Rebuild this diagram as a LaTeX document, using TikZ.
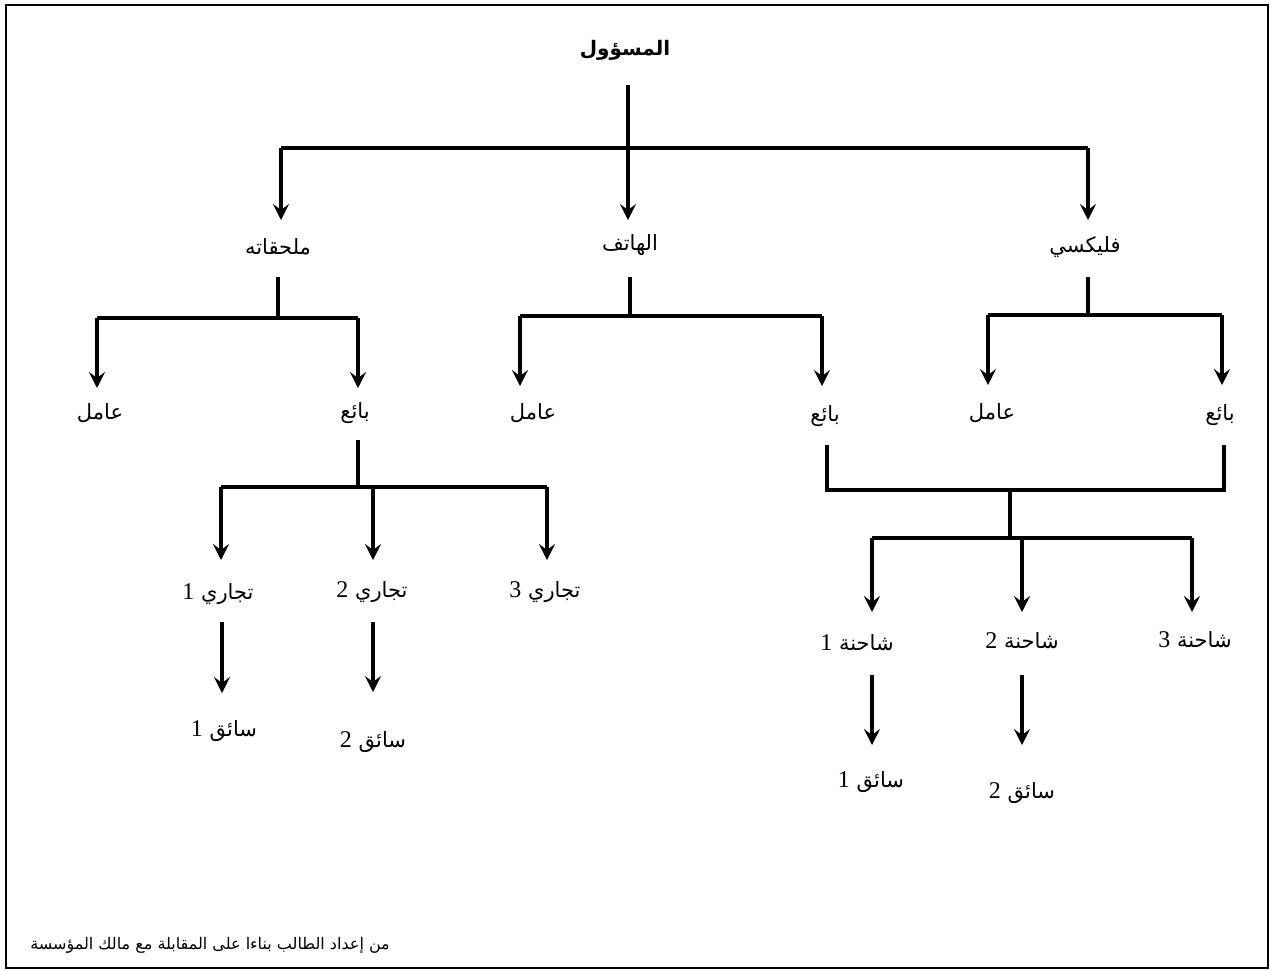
\documentclass[tikz,border=0pt]{standalone}
\usepackage{fontspec}
\usetikzlibrary{arrows.meta}
\TeXXeTstate=1
\newfontfamily\arabicfont[Script=Arabic]{DejaVu Sans}
\newfontfamily\numfont{Liberation Serif}
\newcommand\artxt[1]{\arabicfont\beginR #1\endR}
\newcommand\dig[1]{{\numfont\fontsize{24}{24}\selectfont #1}}
\begin{document}
\begin{tikzpicture}[x=1pt,y=-1pt,
  lbl/.style={font=\arabicfont\fontsize{21}{24}\selectfont, inner sep=0pt},
  rootlbl/.style={font=\arabicfont\bfseries\fontsize{20}{22}\selectfont, inner sep=0pt},
  foot/.style={font=\arabicfont\fontsize{16}{18}\selectfont, inner sep=0pt},
  conn/.style={line width=3.2pt},
  arr/.style={conn, -{Stealth[length=16pt,width=16pt,inset=6pt]}},
  frame/.style={line width=2.5pt}]
\useasboundingbox (0,0) rectangle (1270,970);
\draw[frame] (6,5) rectangle (1268,968);

% labels
\node[rootlbl] (root) at (625,50) {\artxt{المسؤول}};
\node[lbl] (mlh) at (278,247) {\artxt{ملحقاته}};
\node[lbl] (hat) at (630,245) {\artxt{الهاتف}};
\node[lbl] (flx) at (1085,247) {\artxt{فليكسي}};
\node[lbl] (w1) at (100,413) {\artxt{عامل}};
\node[lbl] (s1) at (355,413) {\artxt{بائع}};
\node[lbl] (w2) at (533,413) {\artxt{عامل}};
\node[lbl] (s2) at (825,416) {\artxt{بائع}};
\node[lbl] (w3) at (992,413) {\artxt{عامل}};
\node[lbl] (s3) at (1220,415) {\artxt{بائع}};
\node[lbl] (t1) at (218,594) {\artxt{تجاري \dig{1}}};
\node[lbl] (t2) at (372,592) {\artxt{تجاري \dig{2}}};
\node[lbl] (t3) at (545,592) {\artxt{تجاري \dig{3}}};
\node[lbl] (d1) at (224,731) {\artxt{سائق \dig{1}}};
\node[lbl] (d2) at (373,742) {\artxt{سائق \dig{2}}};
\node[lbl] (k1) at (857,643) {\artxt{شاحنة \dig{1}}};
\node[lbl] (k2) at (1022,641) {\artxt{شاحنة \dig{2}}};
\node[lbl] (k3) at (1195,640) {\artxt{شاحنة \dig{3}}};
\node[lbl] (e1) at (871,782) {\artxt{سائق \dig{1}}};
\node[lbl] (e2) at (1022,793) {\artxt{سائق \dig{2}}};
\node[foot] (src) at (210,945) {\artxt{من إعداد الطالب بناءا على المقابلة مع مالك المؤسسة}};

% coordinates
\coordinate (r0) at (628,85);
\coordinate (rb) at (628,148);
\coordinate (rbl) at (281,148);
\coordinate (rbr) at (1088,148);
\coordinate (a1) at (281,220);
\coordinate (a2) at (628,220);
\coordinate (a3) at (1088,220);

\coordinate (m0) at (278,277);
\coordinate (mb) at (278,318);
\coordinate (mbl) at (97,318);
\coordinate (mbr) at (358,318);
\coordinate (mw) at (97,388);
\coordinate (ms) at (358,388);

\coordinate (h0) at (630,277);
\coordinate (hb) at (630,316);
\coordinate (hbl) at (520,316);
\coordinate (hbr) at (822,316);
\coordinate (hw) at (520,386);
\coordinate (hs) at (822,386);

\coordinate (f0) at (1088,277);
\coordinate (fb) at (1088,315);
\coordinate (fbl) at (988,315);
\coordinate (fbr) at (1222,315);
\coordinate (fw) at (988,385);
\coordinate (fs) at (1222,385);

\coordinate (b0) at (358,440);
\coordinate (bb) at (358,487);
\coordinate (bbl) at (221,487);
\coordinate (bbm) at (373,487);
\coordinate (bbr) at (547,487);
\coordinate (bt1) at (221,560);
\coordinate (bt2) at (373,560);
\coordinate (bt3) at (547,560);
\coordinate (t1a) at (222,622);
\coordinate (t1b) at (222,693);
\coordinate (t2a) at (373,622);
\coordinate (t2b) at (373,692);

\coordinate (sa) at (827,445);
\coordinate (sab) at (827,490);
\coordinate (sc) at (1224,445);
\coordinate (scb) at (1224,490);
\coordinate (sm) at (1010,490);
\coordinate (smb) at (1010,538);
\coordinate (kbl) at (872,538);
\coordinate (kbm) at (1022,538);
\coordinate (kbr) at (1192,538);
\coordinate (ka1) at (872,612);
\coordinate (ka2) at (1022,612);
\coordinate (ka3) at (1192,612);
\coordinate (k1a) at (872,675);
\coordinate (k1b) at (872,745);
\coordinate (k2a) at (1022,675);
\coordinate (k2b) at (1022,745);

% connectors
\draw[conn] (r0) -- (rb);
\draw[conn] (rbl) -- (rbr);
\draw[arr] (rbl) -- (a1);
\draw[arr] (rb) -- (a2);
\draw[arr] (rbr) -- (a3);

\draw[conn] (m0) -- (mb);
\draw[conn] (mbl) -- (mbr);
\draw[arr] (mbl) -- (mw);
\draw[arr] (mbr) -- (ms);

\draw[conn] (h0) -- (hb);
\draw[conn] (hbl) -- (hbr);
\draw[arr] (hbl) -- (hw);
\draw[arr] (hbr) -- (hs);

\draw[conn] (f0) -- (fb);
\draw[conn] (fbl) -- (fbr);
\draw[arr] (fbl) -- (fw);
\draw[arr] (fbr) -- (fs);

\draw[conn] (b0) -- (bb);
\draw[conn] (bbl) -- (bbr);
\draw[arr] (bbl) -- (bt1);
\draw[arr] (bbm) -- (bt2);
\draw[arr] (bbr) -- (bt3);
\draw[arr] (t1a) -- (t1b);
\draw[arr] (t2a) -- (t2b);

\draw[conn] (sa) -- (sab) -- (scb) -- (sc);
\draw[conn] (sm) -- (smb);
\draw[conn] (kbl) -- (kbr);
\draw[arr] (kbl) -- (ka1);
\draw[arr] (kbm) -- (ka2);
\draw[arr] (kbr) -- (ka3);
\draw[arr] (k1a) -- (k1b);
\draw[arr] (k2a) -- (k2b);
\end{tikzpicture}
\end{document}
